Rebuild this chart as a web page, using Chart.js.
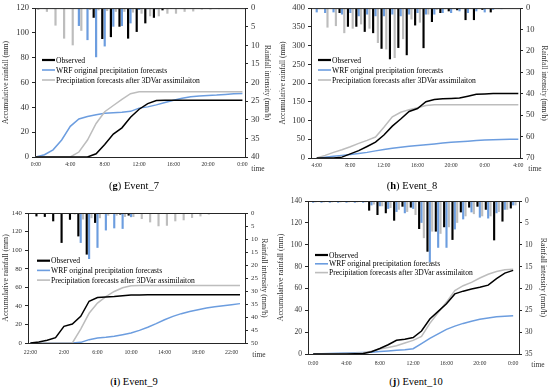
<!DOCTYPE html>
<html>
<head>
<meta charset="utf-8">
<script src="https://cdn.jsdelivr.net/npm/chart.js@4.4.1/dist/chart.umd.min.js"></script>
<style>
  body { margin:0; width:550px; height:389px; background:#fff; position:relative; overflow:hidden; font-family:"Liberation Serif", serif; }
  canvas { position:absolute; }
  .cap { position:absolute; font-size:10.5px; color:#000; transform:translate(-50%,-50%); white-space:nowrap; }
  .time { position:absolute; font-size:7.5px; color:#333; transform:translate(-50%,-50%); }
</style>
</head>
<body>
<canvas id="cG" width="275" height="178" style="left:0;top:0"></canvas>
<canvas id="cH" width="275" height="178" style="left:275px;top:0"></canvas>
<canvas id="cI" width="275" height="170" style="left:0;top:190px"></canvas>
<canvas id="cJ" width="275" height="178" style="left:275px;top:190px"></canvas>

<div class="cap" style="left:134px;top:185px">(<b>g</b>) Event_7</div>
<div class="cap" style="left:412px;top:185px">(<b>h</b>) Event_8</div>
<div class="cap" style="left:134px;top:381px">(<b>i</b>) Event_9</div>
<div class="cap" style="left:416px;top:381px">(<b>j</b>) Event_10</div>
<div class="time" style="left:258px;top:168px">time</div>
<div class="time" style="left:535px;top:168px">time</div>
<div class="time" style="left:259px;top:354px">time</div>
<div class="time" style="left:538px;top:364px">time</div>

<script>
// series names
const seriesNames = ['Observed', 'WRF original precipitation forecasts', 'Precipitation forecasts after 3DVar assimilaiton'];

// ---- Event_7 (g) : hour index from 0:00
const hoursG = [0,1,2,3,4,5,6,7,8,9,10,11,12,13,14,15,16,17,18,19,20,21,22,23,24];
const obsBarG = [0,0,0,0,0,0,0,2.6,8.3,7.8,5.0,8.2,6.4,4.1,2.6,0.6,0.2,0,0,0,0,0,0,0,0];
const wrfBarG = [0.2,0.2,0.2,0.2,0.2,4.8,8.6,13.2,10.3,5.0,4.8,4.1,0.5,0.3,0.3,0.1,0.1,0.1,0.1,0.1,0.1,0.1,0.1,0.1,0.1];
const varBarG = [0.5,1.0,4.7,8.2,10.0,6.1,0.5,0.6,0.8,1.0,1.0,1.2,1.5,2.2,2.2,1.5,1.5,1.0,0.9,0.4,0.4,0.3,0.2,0.2,0.2];
const obsCumG = [0,0,0,0,0,0,0,2.6,10,18.5,23.5,32,38.5,43,45.5,45.8,45.8,45.8,45.8,45.8,45.8,45.8,45.8,45.8,45.8];
const wrfCumG = [0,1.8,5.8,13.7,24.7,30.7,32.6,34,35.2,35.7,36,36.8,39.4,40.4,42,43.9,45.7,47.3,48.6,49.1,49.6,49.9,50.4,51,51.2];
const varCumG = [0,0,0,0,0,4,13.7,27,36.5,41.5,46.5,51,52.5,52.5,52.5,52.5,52.5,52.5,52.5,52.5,52.5,52.5,52.5,52.5,52.5];
const tickPosG = [0,4,8,12,16,20,24];
const tickLabelsG = ['0:00','4:00','8:00','12:00','16:00','20:00','0:00'];

// ---- Event_8 (h) : hour index from 4:00
const hoursH = [0,1,2,3,4,5,6,7,8,9,10,11,12,13,14,15,16,17,18,19,20,21,22,23,24];
const obsBarH = [0,0,0,2.3,8.7,8.7,11.1,11.7,19,23.9,18.6,22,8.1,18.7,6.5,2.3,1.5,1,5.6,5.6,0.8,2,0.3,0,0];
const wrfBarH = [2,2.3,2,3,2.3,3.8,3,3.8,3.8,3,3.8,3,2.3,3,3,2.3,2.3,1.5,2.3,1.5,2,0.8,0.5,0.3,0.3];
const varBarH = [0.5,9.1,8.4,11.7,9.6,7.6,9.6,16.3,19.3,23.3,14.5,5.3,6.8,3,0.8,0.5,0.5,0.3,0.2,0.2,0.2,0.2,0.1,0.1,0.1];
const obsCumH = [0,0,0,2.3,11,19.7,30.8,42.5,61.5,85,104,124,132,150,156,158,159,160,165,170,171,172,172,172,172];
const wrfCumH = [0,2,4.5,7,9.5,12,15,19,22.5,26,29,31.5,33.5,35.5,37.5,40,42,43.5,45,46.5,48,49,49.5,50,50];
const varCumH = [0,7,15,22,30,39,47,56,82,110,122,129,134,140,142,142,142,142,142,142,142,142,142,142,142];
const tickPosH = [0,4,8,12,16,20,24];
const tickLabelsH = ['4:00','8:00','12:00','16:00','20:00','0:00','4:00'];

// ---- Event_9 (i) : hour index from 22:00
const hoursI = [0,1,2,3,4,5,6,7,8,9,10,11,12,13,14,15,16,17,18,19,20,21,22,23,24,25];
const obsBarI = [0.5,1.3,1.5,3.2,11.5,2.6,9,16,3.8,0.4,0.2,0.6,1,0.2,0,0,0,0,0,0,0,0,0,0,0,0];
const wrfBarI = [0,0,0,0,0,0,11.5,17.7,13.4,6.7,5.9,6.1,1.6,0.3,0.2,0.2,0.1,0.1,0.1,0.1,0.1,0.1,0.1,0.1,0.1,0.1];
const varBarI = [0,0,0,0,0,0.6,2.5,2,2,1,1,1.5,1.5,2.3,3.6,5.1,4.9,3.2,2.8,1.9,1.3,0.6,0.3,0.1,0.1,0];
const obsCumI = [0,1,2.9,5.7,18,20.5,28.7,45,49,49.5,50,51,51.7,51.8,52,52,52,52,52,52,52,52,52,52,52,52];
const wrfCumI = [0,0,0,0,0,0,0.7,3.6,5.4,6.1,7.2,9,10.8,13.6,16.9,20.8,25,28.7,31.6,34,35.9,37.7,39,40.2,41.3,42.4];
const varCumI = [0,0,0,0,0,0,15,32,43,50,55.5,59.5,61.7,62,62,62,62,62,62,62,62,62,62,62,62,62];
const tickPosI = [0,4,8,12,16,20,24];
const tickLabelsI = ['22:00','2:00','6:00','10:00','14:00','18:00','22:00'];

// ---- Event_10 (j) : hour index from 0:00
const hoursJ = [0,1,2,3,4,5,6,7,8,9,10,11,12,13,14,15,16,17,18,19,20,21,22,23,24];
const obsBarJ = [0,0,0,0,0,0,0,2.2,3.2,2.8,4.5,1.3,1.5,6.4,11.6,7,6,8.9,2.6,1.5,1.3,2,9,4.7,1.7];
const wrfBarJ = [0.4,0.4,0.4,0.4,0.4,0.4,0.4,1,1.2,1.8,2.5,2.8,1.8,5,14,10.7,10.7,6.5,4.2,2.6,3.8,4,2.8,2,1];
const varBarJ = [0.3,0.3,0.3,0.3,0.3,0.3,0.3,0.8,1.2,1.6,2,2.5,3.2,8.5,7,7.5,6,5,3.5,3,3.5,3.5,2.5,2,1];
const obsCumJ = [0,0,0,0,0.1,0.2,0.4,2,5,8.5,12.5,13.5,15,21,32,39,46,55,57.5,59.5,61,63,69,74,76.5];
const wrfCumJ = [0,0.3,0.5,0.8,1,1.2,1.4,1.7,2.2,2.8,3.4,4,4.8,9.5,14.3,18.5,22.5,25.5,28,30,31.7,33,34,34.6,35];
const varCumJ = [0,0.1,0.2,0.3,0.5,0.8,1.2,2.5,4.5,6,7.5,10,12.5,16,28,38,47.5,58,62.5,65.5,69.5,73,75.5,77,77.5];
const tickPosJ = [0,4,8,12,16,20,24];
const tickLabelsJ = ['0:00','4:00','8:00','12:00','16:00','20:00','0:00'];

const BLACK = '#000000';
const BLUE = '#6c9ddf';
const GRAY = '#bdbdbd';
const AXIS = '#262626';
const TXT = '#333333';
const FONT = 'Liberation Serif';

// top border of the plot (where the reversed intensity axis starts)
const topLine = {
  id: 'topLine',
  afterDatasetsDraw(chart) {
    const a = chart.chartArea, c = chart.ctx;
    c.save();
    c.strokeStyle = AXIS; c.lineWidth = 1;
    c.beginPath(); c.moveTo(a.left, a.top + 0.5); c.lineTo(a.right, a.top + 0.5); c.stroke();
    c.restore();
  }
};

// legend drawn inside the plot
const inLegend = {
  id: 'inLegend',
  afterDraw(chart, args, opts) {
    const c = chart.ctx;
    c.save();
    c.font = opts.size + 'px "' + FONT + '"';
    c.textBaseline = 'middle';
    c.fillStyle = '#000';
    for (let i = 0; i < 3; i++) {
      const ds = chart.data.datasets[i];
      const y = opts.y + i * opts.dy;
      c.strokeStyle = ds.borderColor;
      c.lineWidth = i === 0 ? 2.2 : 1.6;
      c.beginPath(); c.moveTo(opts.x, y); c.lineTo(opts.x + 13, y); c.stroke();
      c.fillText(ds.label, opts.x + 14, y + 0.5);
    }
    c.restore();
  }
};

function makePanel(p) {
  const W = p.w, H = p.h, a = p.area;
  const lineDs = (label, data, color, width, order) => ({
    type: 'line', label, data, yAxisID: 'y', borderColor: color, backgroundColor: color,
    borderWidth: width, pointRadius: 0, tension: 0, order
  });
  const barDs = (label, data, color) => ({
    type: 'bar', label, data, yAxisID: 'y2', backgroundColor: color, borderWidth: 0,
    categoryPercentage: 0.85, barPercentage: 0.9, order: 5
  });
  new Chart(document.getElementById(p.id), {
    type: 'bar',
    data: {
      labels: p.hours,
      datasets: [
        lineDs(seriesNames[0], p.obsCum, BLACK, 1.5, 0),
        lineDs(seriesNames[1], p.wrfCum, BLUE, 1.5, 2),
        lineDs(seriesNames[2], p.varCum, GRAY, 1.5, 1),
        barDs(seriesNames[0], p.obsBar, BLACK),
        barDs(seriesNames[1], p.wrfBar, BLUE),
        barDs(seriesNames[2], p.varBar, GRAY)
      ]
    },
    options: {
      responsive: false,
      animation: false,
      devicePixelRatio: 1,
      layout: { autoPadding: false, padding: { top: a.t, left: 0, right: 0, bottom: 0 } },
      plugins: {
        legend: { display: false },
        tooltip: { enabled: false },
        inLegend: { x: p.leg.x, y: p.leg.y, dy: p.leg.dy, size: 7.6 }
      },
      scales: {
        x: {
          type: 'linear', min: p.xMin, max: p.xMax, offset: false,
          grid: { display: false, drawTicks: false, tickLength: 0 },
          border: { display: true, color: AXIS, width: 1 },
          ticks: {
            autoSkip: false, maxRotation: 0, padding: p.xPad, color: TXT,
            font: { family: FONT, size: 5.8 },
            callback: (v, i) => p.tickLabels[i]
          },
          afterBuildTicks: s => { s.ticks = p.tickPos.map(v => ({ value: v })); },
          afterFit: s => { s.height = H - a.b; }
        },
        y: {
          position: 'left', min: 0, max: p.yMax,
          ticks: { stepSize: p.yStep, color: TXT, padding: 3, font: { family: FONT, size: p.tickSize } },
          grid: { display: true, drawOnChartArea: false, drawTicks: true, tickLength: 3, color: AXIS },
          border: { color: AXIS, width: 1 },
          title: { display: true, text: 'Accumulative rainfall (mm)', color: TXT,
                   font: { family: FONT, size: p.titleSize }, padding: { top: p.ltPad, bottom: 0 } },
          afterFit: s => { s.width = a.l; }
        },
        y2: {
          position: 'right', reverse: true, min: 0, max: p.y2Max,
          ticks: { stepSize: p.y2Step, color: TXT, padding: 3, font: { family: FONT, size: p.tickSize } },
          grid: { display: true, drawOnChartArea: false, drawTicks: true, tickLength: 3, color: AXIS },
          border: { color: AXIS, width: 1 },
          title: { display: true, text: 'Rainfall intensity (mm/h)', color: TXT,
                   font: { family: FONT, size: p.titleSize }, padding: { top: p.rtPad, bottom: 0 } },
          afterFit: s => { s.width = W - a.r; }
        }
      }
    },
    plugins: [topLine, inLegend]
  });
}

makePanel({
  id: 'cG', w: 275, h: 178, area: { l: 35, t: 5, r: 245, b: 157 },
  hours: hoursG, obsBar: obsBarG, wrfBar: wrfBarG, varBar: varBarG,
  obsCum: obsCumG, wrfCum: wrfCumG, varCum: varCumG,
  tickPos: tickPosG, tickLabels: tickLabelsG,
  xMin: -0.1, xMax: 24.3, yMax: 120, yStep: 20, y2Max: 40, y2Step: 5,
  xPad: 4, tickSize: 8.5, titleSize: 7.4, ltPad: 1.5, rtPad: 3.5,
  leg: { x: 42, y: 60, dy: 10 }
});
makePanel({
  id: 'cH', w: 275, h: 178, area: { l: 36, t: 5, r: 245, b: 158 },
  hours: hoursH, obsBar: obsBarH, wrfBar: wrfBarH, varBar: varBarH,
  obsCum: obsCumH, wrfCum: wrfCumH, varCum: varCumH,
  tickPos: tickPosH, tickLabels: tickLabelsH,
  xMin: -0.68, xMax: 24.2, yMax: 400, yStep: 50, y2Max: 70, y2Step: 10,
  xPad: 3.5, tickSize: 8.5, titleSize: 7.4, ltPad: 4, rtPad: 1.5,
  leg: { x: 43, y: 60, dy: 10 }
});
makePanel({
  id: 'cI', w: 275, h: 170, area: { l: 28, t: 23, r: 245, b: 153 },
  hours: hoursI, obsBar: obsBarI, wrfBar: wrfBarI, varBar: varBarI,
  obsCum: obsCumI, wrfCum: wrfCumI, varCum: varCumI,
  tickPos: tickPosI, tickLabels: tickLabelsI,
  xMin: -0.29, xMax: 25.6, yMax: 140, yStep: 20, y2Max: 50, y2Step: 5,
  xPad: 6, tickSize: 6.8, titleSize: 7.8, ltPad: 1.5, rtPad: 6,
  leg: { x: 37, y: 70.7, dy: 9.7 }
});
makePanel({
  id: 'cJ', w: 275, h: 178, area: { l: 33, t: 11, r: 244, b: 164 },
  hours: hoursJ, obsBar: obsBarJ, wrfBar: wrfBarJ, varBar: varBarJ,
  obsCum: obsCumJ, wrfCum: wrfCumJ, varCum: varCumJ,
  tickPos: tickPosJ, tickLabels: tickLabelsJ,
  xMin: -0.62, xMax: 24.7, yMax: 140, yStep: 20, y2Max: 35, y2Step: 5,
  xPad: 6, tickSize: 7.5, titleSize: 7.8, ltPad: 1.5, rtPad: 2.5,
  leg: { x: 40, y: 65, dy: 8.8 }
});
</script>
</body>
</html>
